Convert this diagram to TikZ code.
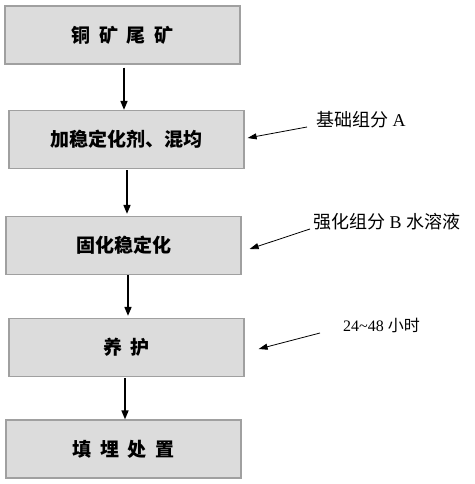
\documentclass[tikz,border=0pt]{standalone}
\usepackage{fontspec}
\setmainfont{Liberation Serif}
\newfontfamily\cjk{Noto Sans CJK SC}
\usetikzlibrary{arrows.meta}
\definecolor{boxfill}{HTML}{DCDCDC}
\definecolor{boxline}{HTML}{A0A0A0}
\tikzset{
  stepbox/.style={draw=boxline, line width=1.2pt, fill=boxfill, minimum width=235pt, minimum height=58pt, inner sep=0pt, font=\cjk\bfseries\fontsize{19}{19}\selectfont},
  flowarr/.style={line width=1.6pt, -{Triangle[length=9pt,width=7pt]}},
  sidearr/.style={line width=0.8pt, -{Triangle[length=9pt,width=6pt]}},
  sidelabel/.style={inner sep=0pt, font=\fontsize{18}{18}\selectfont}
}
\begin{document}
\begin{tikzpicture}[x=1pt,y=-1pt]
\useasboundingbox (0,0) rectangle (474,484);
\node[stepbox] (b1) at (122.5,35) {铜\hspace{0.45em}矿\hspace{0.45em}尾\hspace{0.45em}矿};
\node[stepbox] (b2) at (126.5,139.5) {加稳定化剂、混均};
\node[stepbox] (b3) at (123.5,245.5) {固化稳定化};
\node[stepbox] (b4) at (126.5,347.5) {养\hspace{0.45em}护};
\node[stepbox] (b5) at (123.5,449) {填\hspace{0.45em}埋\hspace{0.45em}处\hspace{0.45em}置};

\draw[flowarr] ([xshift=1.5pt,yshift=-3pt]b1.south) -- ([xshift=-2.5pt]b2.north);
\draw[flowarr] ([xshift=0.5pt,yshift=-1pt]b2.south) -- ([xshift=3.5pt,yshift=2pt]b3.north);
\draw[flowarr] ([xshift=4.5pt]b3.south) -- ([xshift=1.5pt,yshift=2pt]b4.north);
\draw[flowarr] ([xshift=-1.5pt,yshift=-1pt]b4.south) -- ([xshift=1.5pt]b5.north);

\node[sidelabel, anchor=west] (la) at (316,120) {{\cjk 基础组分} A};
\node[sidelabel, anchor=west] (lb) at (313,222) {{\cjk 强化组分} B {\cjk 水溶液}};
\node[sidelabel, anchor=west, font=\fontsize{16}{16}\selectfont] (lc) at (343,325) {24\textasciitilde48 {\cjk 小时}};

\coordinate (sa) at (307,127);
\coordinate (sb) at (310,229);
\coordinate (sc) at (320,333);
\draw[sidearr] (sa) -- ([xshift=3pt,yshift=1.5pt]b2.east);
\draw[sidearr] (sb) -- ([xshift=8pt,yshift=-3.5pt]b3.east);
\draw[sidearr] (sc) -- ([xshift=14pt,yshift=-1.5pt]b4.east);
\end{tikzpicture}
\end{document}
